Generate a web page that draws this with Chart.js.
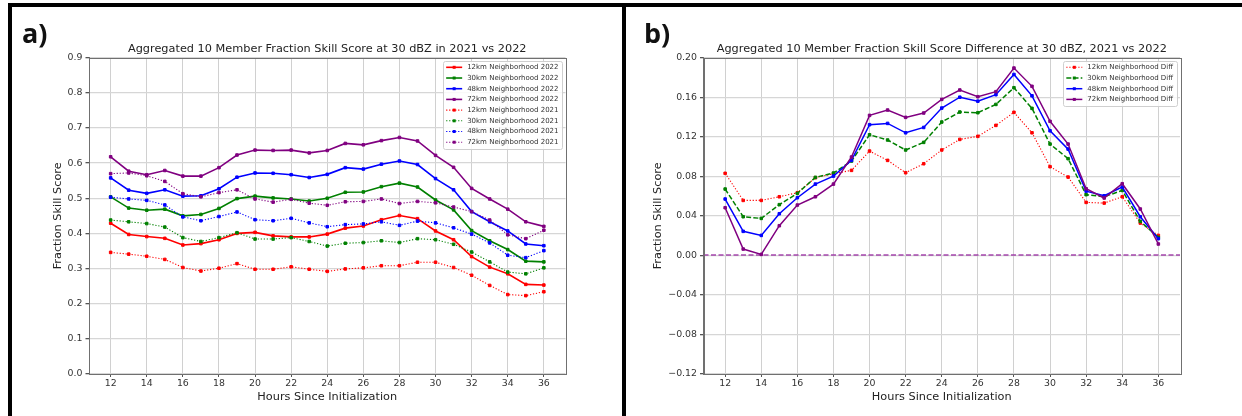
<!DOCTYPE html>
<html><head><meta charset="utf-8">
<script src="https://cdn.jsdelivr.net/npm/chart.js@4.4.1/dist/chart.umd.min.js"></script>
<style>
html,body{margin:0;padding:0;background:#fff;}
body{width:1242px;height:416px;position:relative;overflow:hidden;font-family:'DejaVu Sans',sans-serif;}
.bar{position:absolute;background:#000;}
canvas{position:absolute;}
.lab{position:absolute;font-family:'Open Sans',sans-serif;font-weight:700;font-size:27px;color:#111;line-height:1;}
</style></head><body>
<canvas id="ca" width="622" height="416" style="left:0;top:0"></canvas>
<canvas id="cb" width="616" height="416" style="left:626px;top:0"></canvas>
<div class="bar" style="left:8px;top:3px;width:1234px;height:4px"></div>
<div class="bar" style="left:8px;top:3px;width:4px;height:413px"></div>
<div class="bar" style="left:622px;top:3px;width:4px;height:413px"></div>
<div class="lab" style="left:22px;top:19px">a)</div>
<div class="lab" style="left:644px;top:19px">b)</div>
<script>
// ---------- data ----------
const hours = [12,13,14,15,16,17,18,19,20,21,22,23,24,25,26,27,28,29,30,31,32,33,34,35,36];
const xTicks = [12,14,16,18,20,22,24,26,28,30,32,34,36];
const yTicksA = [0.0,0.1,0.2,0.3,0.4,0.5,0.6,0.7,0.8,0.9];
const yTicksB = [-0.12,-0.08,-0.04,0.0,0.04,0.08,0.12,0.16,0.20];

const fss2022_12km = [0.429,0.397,0.391,0.386,0.367,0.371,0.382,0.400,0.403,0.393,0.390,0.390,0.398,0.415,0.421,0.439,0.451,0.442,0.407,0.382,0.334,0.304,0.285,0.255,0.253];
const fss2022_30km = [0.504,0.472,0.466,0.469,0.450,0.454,0.471,0.499,0.506,0.501,0.498,0.492,0.500,0.517,0.518,0.533,0.543,0.532,0.495,0.467,0.408,0.379,0.354,0.321,0.319];
const fss2022_48km = [0.558,0.523,0.514,0.524,0.506,0.507,0.527,0.560,0.572,0.571,0.567,0.559,0.568,0.587,0.583,0.597,0.606,0.596,0.556,0.524,0.462,0.433,0.407,0.370,0.365];
const fss2022_72km = [0.618,0.577,0.567,0.579,0.563,0.563,0.587,0.623,0.637,0.636,0.637,0.629,0.636,0.656,0.652,0.664,0.673,0.663,0.622,0.588,0.528,0.498,0.469,0.433,0.420];
const fss2021_12km = [0.346,0.341,0.335,0.326,0.303,0.293,0.301,0.314,0.298,0.298,0.305,0.298,0.292,0.299,0.302,0.308,0.308,0.318,0.318,0.303,0.281,0.252,0.226,0.223,0.234];
const fss2021_30km = [0.438,0.433,0.428,0.418,0.388,0.377,0.388,0.402,0.384,0.384,0.388,0.377,0.364,0.372,0.374,0.379,0.374,0.385,0.382,0.369,0.347,0.319,0.290,0.285,0.302];
const fss2021_48km = [0.503,0.498,0.494,0.481,0.447,0.436,0.448,0.461,0.439,0.436,0.443,0.430,0.419,0.425,0.427,0.433,0.423,0.435,0.430,0.416,0.398,0.373,0.338,0.331,0.351];
const fss2021_72km = [0.570,0.572,0.564,0.548,0.513,0.504,0.516,0.524,0.498,0.489,0.497,0.486,0.480,0.490,0.491,0.498,0.485,0.491,0.487,0.475,0.462,0.438,0.396,0.385,0.409];

const diff_12km = [0.083,0.0556,0.0556,0.0593,0.0634,0.0786,0.0826,0.086,0.1055,0.0961,0.0836,0.0927,0.1066,0.1173,0.1204,0.1315,0.1447,0.124,0.0897,0.0792,0.0536,0.0529,0.0593,0.0327,0.0202];
const diff_30km = [0.0671,0.0391,0.0374,0.0513,0.0627,0.0789,0.0833,0.0954,0.122,0.1167,0.1066,0.1143,0.1349,0.145,0.1443,0.1527,0.1696,0.1487,0.1126,0.0978,0.0614,0.0593,0.0657,0.0344,0.0182];
const diff_48km = [0.057,0.0243,0.0202,0.0421,0.0583,0.0721,0.0802,0.0961,0.1322,0.1335,0.124,0.1294,0.149,0.160,0.156,0.1625,0.183,0.1614,0.126,0.1075,0.065,0.0603,0.0691,0.0391,0.0169];
const diff_72km = [0.0482,0.0064,0.001,0.030,0.0509,0.0593,0.0721,0.0995,0.1416,0.147,0.1396,0.144,0.1578,0.1673,0.1605,0.1656,0.1895,0.171,0.1356,0.1126,0.0674,0.058,0.0725,0.0469,0.0115];

const titleA = 'Aggregated 10 Member Fraction Skill Score at 30 dBZ in 2021 vs 2022';
const titleB = 'Aggregated 10 Member Fraction Skill Score Difference at 30 dBZ, 2021 vs 2022';
const xTitle = 'Hours Since Initialization';
const yTitle = 'Fraction Skill Score';

// ---------- styling ----------
const FONT = "'DejaVu Sans', sans-serif";
Chart.defaults.font.family = FONT;
const C = {red:'#ff0000', green:'#008000', blue:'#0000ff', purple:'#800080'};
const SOLID = [], DOT = [1.2, 1.8], DASH = [5, 2.2];

const pts = arr => hours.map((h, i) => ({x: h, y: arr[i]}));
function ds(label, arr, color, dash, width, order) {
  return {label, data: pts(arr), borderColor: color, backgroundColor: color,
    borderDash: dash, borderWidth: width, pointStyle: 'rect', pointRadius: 1.8,
    pointBorderWidth: 1, pointBorderColor: color, pointBackgroundColor: color,
    tension: 0, fill: false, order};
}

const frame = {
  id: 'frame',
  afterDatasetsDraw(chart) {
    const {ctx, chartArea: a} = chart;
    ctx.save();
    ctx.strokeStyle = '#707070'; ctx.lineWidth = 1;
    ctx.strokeRect(Math.round(a.left) + 0.5, Math.round(a.top) + 0.5,
      Math.round(a.right - a.left), Math.round(a.bottom - a.top));
    ctx.restore();
  }
};

const zeroLine = {
  id: 'zeroLine',
  beforeDatasetsDraw(chart, args, opts) {
    if (!opts || !opts.show) return;
    const {ctx, chartArea: a, scales} = chart;
    const y = Math.round(scales.y.getPixelForValue(0));
    ctx.save();
    ctx.strokeStyle = 'rgba(150,40,160,0.85)'; ctx.lineWidth = 1.6; ctx.setLineDash([5, 2.5]);
    ctx.beginPath(); ctx.moveTo(a.left, y); ctx.lineTo(a.right, y); ctx.stroke();
    ctx.restore();
  }
};

const insideLegend = {
  id: 'insideLegend',
  afterDraw(chart) {
    const {ctx, chartArea: a} = chart;
    const items = chart.data.datasets;
    const fs = 7;
    ctx.save();
    ctx.font = fs + "px 'DejaVu Sans'";
    const tw = Math.max(...items.map(d => ctx.measureText(d.label).width));
    const rowH = 10.7;
    const w = tw + 28, h = items.length * rowH + 2.5;
    const x0 = a.right - 3 - w, y0 = a.top + 3.3;
    ctx.fillStyle = 'rgba(255,255,255,0.85)'; ctx.strokeStyle = '#cfcfcf'; ctx.lineWidth = 1;
    ctx.beginPath(); ctx.roundRect(Math.round(x0) + 0.5, Math.round(y0) + 0.5, Math.round(w), Math.round(h), 2);
    ctx.fill(); ctx.stroke();
    items.forEach((d, i) => {
      const cy = y0 + 1 + rowH / 2 + i * rowH;
      ctx.strokeStyle = d.borderColor; ctx.lineWidth = d.borderWidth; ctx.setLineDash(d.borderDash || []);
      ctx.beginPath(); ctx.moveTo(x0 + 3, cy); ctx.lineTo(x0 + 19, cy); ctx.stroke();
      ctx.setLineDash([]);
      ctx.fillStyle = d.borderColor;
      ctx.fillRect(x0 + 11 - 1.5, cy - 1.5, 3, 3);
      ctx.fillStyle = '#333'; ctx.textBaseline = 'middle'; ctx.textAlign = 'left';
      ctx.fillText(d.label, x0 + 24, cy);
    });
    ctx.restore();
  }
};

function makeOptions(yMin, yMax, yTicks, yFmt, yAxisWidth, yTitlePad, title, rightPad, showZero) {
  return {
    responsive: false, animation: false, devicePixelRatio: 1, events: [],
    layout: {padding: {left: 0, right: rightPad, top: 0, bottom: 0}},
    plugins: {
      legend: {display: false}, tooltip: {enabled: false},
      title: {display: true, text: title, fullSize: false, color: '#222',
        font: {size: 11.3, weight: 'normal', family: FONT}, padding: {top: 42.7, bottom: 1.4}},
      zeroLine: {show: showZero}
    },
    scales: {
      x: {type: 'linear', min: 10.8, max: 37.2,
        afterBuildTicks: s => { s.ticks = xTicks.map(v => ({value: v})); },
        afterFit: s => { s.height = 42; },
        ticks: {color: '#333', font: {size: 9.4}, padding: 1, autoSkip: false, maxRotation: 0,
          callback: v => String(v)},
        grid: {color: '#d0d0d0', lineWidth: 1, tickLength: 3, tickColor: '#555', drawTicks: true},
        border: {display: true, color: '#707070', width: 1},
        title: {display: true, text: xTitle, color: '#222', font: {size: 11.3, family: FONT},
          padding: {top: 0, bottom: 12.2}}
      },
      y: {type: 'linear', min: yMin, max: yMax,
        afterBuildTicks: s => { s.ticks = yTicks.map(v => ({value: v})); },
        afterFit: s => { s.width = yAxisWidth; },
        ticks: {color: '#333', font: {size: 9.4}, padding: 3, autoSkip: false, callback: yFmt},
        grid: {color: '#d6d6d6', lineWidth: 1.3, tickLength: 3.5, tickColor: '#555', drawTicks: true},
        border: {display: true, color: '#707070', width: 1},
        title: {display: true, text: yTitle, color: '#222', font: {size: 11.3, family: FONT},
          padding: {top: yTitlePad, bottom: 0}}
      }
    }
  };
}

new Chart(document.getElementById('ca'), {
  type: 'line',
  data: {datasets: [
    ds('12km Neighborhood 2022', fss2022_12km, C.red, SOLID, 1.6, 8),
    ds('30km Neighborhood 2022', fss2022_30km, C.green, SOLID, 1.6, 7),
    ds('48km Neighborhood 2022', fss2022_48km, C.blue, SOLID, 1.6, 6),
    ds('72km Neighborhood 2022', fss2022_72km, C.purple, SOLID, 1.6, 5),
    ds('12km Neighborhood 2021', fss2021_12km, C.red, DOT, 1.1, 4),
    ds('30km Neighborhood 2021', fss2021_30km, C.green, DOT, 1.1, 3),
    ds('48km Neighborhood 2021', fss2021_48km, C.blue, DOT, 1.1, 2),
    ds('72km Neighborhood 2021', fss2021_72km, C.purple, DOT, 1.1, 1)
  ]},
  options: makeOptions(0, 0.9, yTicksA, v => v.toFixed(1), 89, 51.7, titleA, 56.5, false),
  plugins: [frame, insideLegend, zeroLine]
});

new Chart(document.getElementById('cb'), {
  type: 'line',
  data: {datasets: [
    ds('12km Neighborhood Diff', diff_12km, C.red, DOT, 1.1, 4),
    ds('30km Neighborhood Diff', diff_30km, C.green, DASH, 1.5, 3),
    ds('48km Neighborhood Diff', diff_48km, C.blue, SOLID, 1.5, 2),
    ds('72km Neighborhood Diff', diff_72km, C.purple, SOLID, 1.5, 1)
  ]},
  options: makeOptions(-0.12, 0.20, yTicksB, v => v.toFixed(2).replace('-', '\u2212'), 77.5, 24.9, titleB, 62, true),
  plugins: [frame, insideLegend, zeroLine]
});
</script>
</body></html>
